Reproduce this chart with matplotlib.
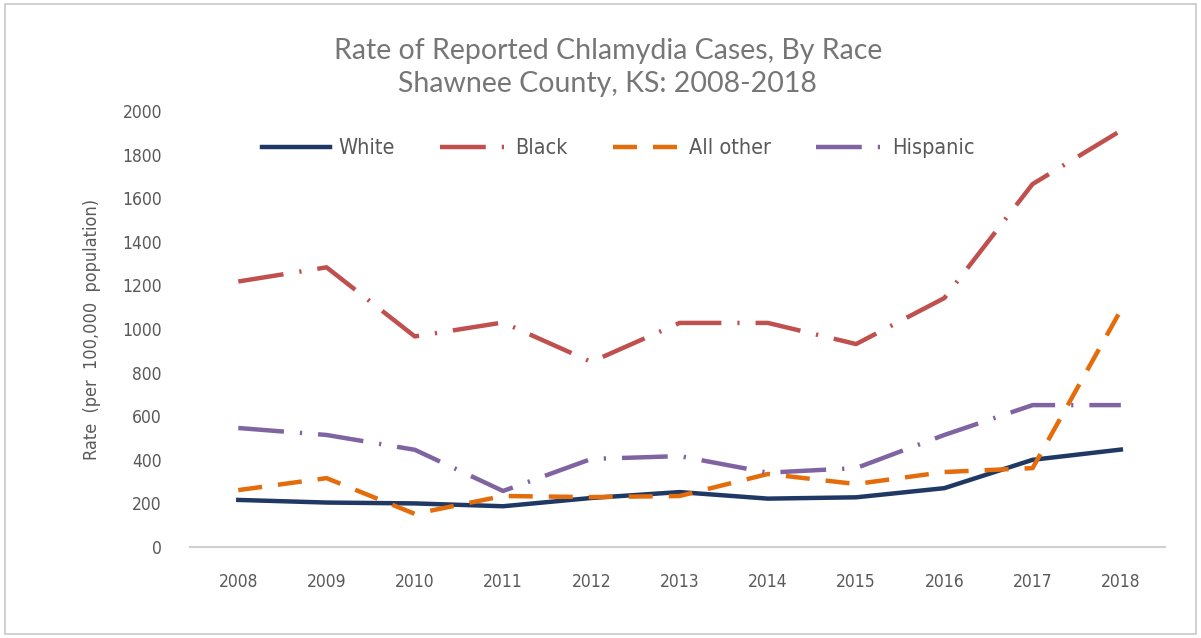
import numpy as np
import matplotlib.pyplot as plt
from matplotlib.patches import Rectangle

years = ['2008', '2009', '2010', '2011', '2012', '2013', '2014', '2015', '2016', '2017', '2018']
white = [216, 204, 200, 187, 225, 252, 222, 228, 270, 400, 447]
black = [1218, 1283, 966, 1030, 849, 1028, 1028, 931, 1142, 1665, 1910]
all_other = [261, 316, 152, 234, 229, 234, 335, 289, 344, 362, 1087]
hispanic = [546, 514, 446, 257, 404, 417, 341, 362, 514, 651, 651]

gray = '#595959'
plt.rcParams['font.family'] = ['DejaVu Sans']
plt.rcParams['font.stretch'] = 'condensed'

fig = plt.figure(figsize=(12.01, 6.38), dpi=100)
fig.patches.append(Rectangle((0.004, 0.006), 0.992, 0.988, transform=fig.transFigure,
                             fill=False, edgecolor='#c8c8c8', lw=1.2))
ax = fig.add_axes([0.158, 0.1426, 0.812, 0.6834])

x = np.arange(len(years))
lw = 3.2
ax.plot(x, white, color='#1f3864', lw=lw, label='White')
ax.plot(x, black, color='#c0504d', lw=lw, label='Black', dashes=(10.3, 3.6, 0.5, 3.6))
ax.plot(x, all_other, color='#e46c0a', lw=lw, label='All other', dashes=(5.4, 3.6))
ax.plot(x, hispanic, color='#8064a2', lw=lw, label='Hispanic', dashes=(10.3, 3.6, 0.5, 3.6))

ax.set_xlim(-0.55, 10.5)
ax.set_ylim(0, 2000)
ax.set_yticks(range(0, 2001, 200))
ax.set_xticks(x)
ax.set_xticklabels(years)
ax.tick_params(axis='both', length=0, labelsize=12.5, colors=gray)
ax.tick_params(axis='x', pad=19)
ax.tick_params(axis='y', pad=20)
for s in ['top', 'right', 'left']:
    ax.spines[s].set_visible(False)
ax.spines['bottom'].set_color('#d0d0d0')
ax.spines['bottom'].set_linewidth(1.5)

ax.set_ylabel('Rate  (per  100,000  population)', fontsize=13, color=gray, labelpad=15)

fig.text(0.506, 0.848, 'Rate of Reported Chlamydia Cases, By Race\nShawnee County, KS: 2008-2018',
         ha='center', va='bottom', fontsize=20.5, color='#767676', family=['Lato', 'DejaVu Sans'],
         stretch='normal', linespacing=1.32)

ax.legend(loc='center left', bbox_to_anchor=(0.074, 0.915), borderpad=0, borderaxespad=0,
          ncol=4, frameon=False, fontsize=15.5, labelcolor=gray, handlelength=3.15,
          columnspacing=2.1, handletextpad=0.38)

fig.savefig('out.png', dpi=100)
